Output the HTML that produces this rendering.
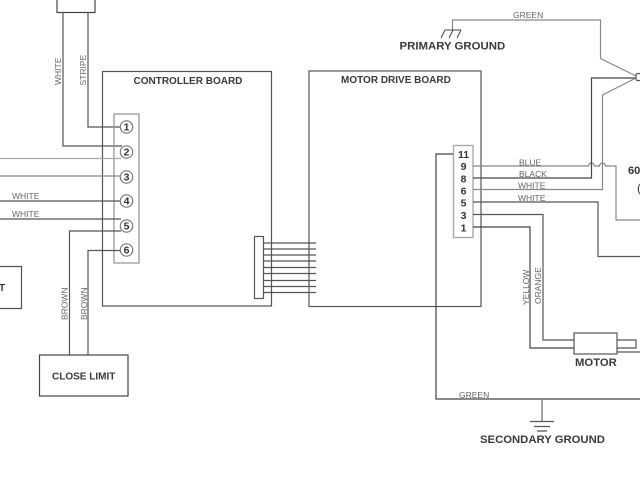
<!DOCTYPE html>
<html>
<head>
<meta charset="utf-8">
<style>
html,body{margin:0;padding:0;background:#fff;width:640px;height:480px;overflow:hidden}
svg{display:block;filter:blur(0.35px)}
text{font-family:"Liberation Sans",sans-serif}
.b{font-weight:bold;font-size:10px;fill:#3a3a3a}
.l{font-size:8.5px;fill:#666}
.n{font-weight:bold;font-size:10.500px;fill:#333;text-anchor:middle}
.w{fill:none;stroke:#555;stroke-width:1.2}
.g{fill:none;stroke:#888;stroke-width:1.2}
.d{fill:none;stroke:#444;stroke-width:1.2}
.c{fill:#fff;stroke:#777;stroke-width:1.2}
</style>
</head>
<body>
<svg width="640" height="480" viewBox="0 0 640 480" xmlns="http://www.w3.org/2000/svg">
<!-- top box -->
<path class="d" d="M57 0V12.500H95V0"/>
<path class="w" d="M63 12.500V146H122M88 12.500V127H121"/>
<text class="l" transform="translate(61,85) rotate(-90)">WHITE</text>
<text class="l" transform="translate(86,85.500) rotate(-90)">STRIPE</text>

<!-- controller board -->
<rect class="w" x="102.500" y="71.500" width="169" height="234.500"/>
<text class="b" x="133.500" y="84">CONTROLLER BOARD</text>
<rect x="114" y="114" width="25" height="149" fill="none" stroke="#999" stroke-width="1.300"/>

<!-- left wires -->
<path class="g" d="M0 158.500H121" style="stroke:#aaa"/>
<path class="g" d="M0 176H121"/>
<path class="w" d="M0 201H121M0 219H121"/>
<text class="l" x="12" y="199">WHITE</text>
<text class="l" x="12" y="217">WHITE</text>
<path class="w" d="M69.500 355V231H121M88 355V250.500H121"/>
<text class="l" transform="translate(67.500,320) rotate(-90)">BROWN</text>
<text class="l" transform="translate(87,320) rotate(-90)">BROWN</text>

<!-- terminals -->
<g>
<circle class="c" cx="126.500" cy="127" r="6.200"/><text class="n" x="126.500" y="130.700">1</text>
<circle class="c" cx="126.500" cy="152" r="6.200"/><text class="n" x="126.500" y="155.700">2</text>
<circle class="c" cx="126.500" cy="177" r="6.200"/><text class="n" x="126.500" y="180.700">3</text>
<circle class="c" cx="126.500" cy="201" r="6.200"/><text class="n" x="126.500" y="204.700">4</text>
<circle class="c" cx="126.500" cy="226" r="6.200"/><text class="n" x="126.500" y="229.700">5</text>
<circle class="c" cx="126.500" cy="250" r="6.200"/><text class="n" x="126.500" y="253.700">6</text>
</g>

<!-- left limit box -->
<path class="w" d="M0 266.500H21.500V308.500H0"/>
<text class="b" x="-1" y="291">T</text>

<!-- close limit -->
<rect class="d" x="39.500" y="355" width="88.500" height="41"/>
<text class="b" x="52" y="379.500">CLOSE LIMIT</text>

<!-- ribbon connector -->
<rect class="w" x="254.500" y="236.500" width="9" height="62"/>
<path class="w" d="M264 243H316M264 249H316M264 255H316M264 261H316M264 267.500H316M264 273.500H316M264 280.500H316M264 286.500H316M264 292.500H316"/>

<!-- motor drive board -->
<rect class="w" x="309" y="71" width="172" height="235.500"/>
<text class="b" x="341" y="83">MOTOR DRIVE BOARD</text>

<!-- right connector -->
<rect x="453.500" y="145.500" width="19.500" height="92" fill="#fff" stroke="#aaa" stroke-width="1.400"/>
<text class="n" x="463.500" y="158">11</text>
<text class="n" x="463.500" y="170">9</text>
<text class="n" x="463.500" y="182.500">8</text>
<text class="n" x="463.500" y="194.500">6</text>
<text class="n" x="463.500" y="206.500">5</text>
<text class="n" x="463.500" y="219">3</text>
<text class="n" x="463.500" y="231.500">1</text>

<!-- wires -->
<path class="d" d="M453 154H436V399H640"/>
<path class="g" d="M473 166H588.500C589.500 162 593.500 162 594.500 166H599.500C600.500 162 604.500 162 605.500 166H616V220H640"/>
<path class="d" d="M473 178H591.500V78H636"/>
<path class="g" d="M473 189.500H602.500V95L636 78"/>
<path class="w" d="M473 202H598V256.500H640"/>
<path class="w" d="M473 214.500H543V340H574"/>
<path class="d" d="M473 227H530V348H574"/>
<text class="l" x="519" y="165.500">BLUE</text>
<text class="l" x="519" y="177">BLACK</text>
<text class="l" x="518" y="188.500">WHITE</text>
<text class="l" x="518" y="201">WHITE</text>
<text class="l" transform="translate(529,305) rotate(-90)">YELLOW</text>
<text class="l" transform="translate(541,304) rotate(-90)">ORANGE</text>

<!-- primary ground -->
<path class="g" d="M452.500 30V20H600.500V58.500L636 76"/>
<path class="d" d="M445 30H461M445 30L441 38M453 30L449 38M461 30L457 38" style="stroke-width:1"/>
<text class="l" x="513" y="18">GREEN</text>
<text x="399.500" y="49.500" class="b" style="font-size:11.400px">PRIMARY GROUND</text>
<rect x="636" y="73.500" width="6" height="7" rx="1.500" fill="#fff" stroke="#555" stroke-width="1.200"/>

<!-- 60 label -->
<text x="628" y="174" style="font-weight:bold;font-size:11px;fill:#333">60</text>
<text x="637" y="192" style="font-size:12px;fill:#333">(</text>

<!-- motor -->
<rect class="w" x="574" y="333" width="43" height="21" fill="#fff"/>
<path class="w" d="M617 340H636V348H617M617 352H640"/>
<text x="575" y="366" class="b" style="font-size:11.300px">MOTOR</text>

<!-- secondary ground -->
<path class="g" d="M542 399V421" style="stroke-width:1.500"/>
<path class="w" d="M530 421.500H554M534 426.500H550M537 431H547"/>
<text class="l" x="459" y="398">GREEN</text>
<text x="480" y="443" class="b" style="font-size:11.300px">SECONDARY GROUND</text>
</svg>
</body>
</html>
